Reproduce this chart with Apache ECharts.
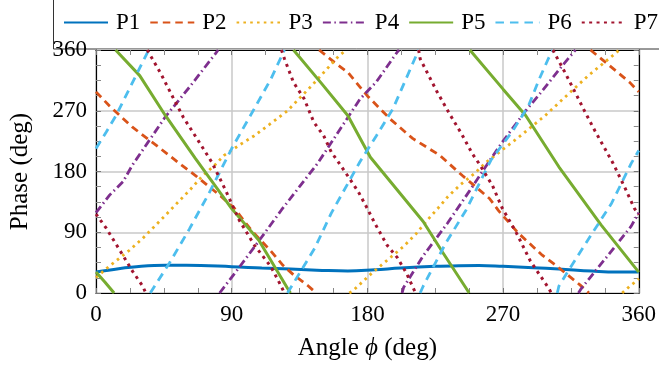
<!DOCTYPE html>
<html>
<head>
<meta charset="utf-8">
<script src="https://cdn.jsdelivr.net/npm/echarts@6/dist/echarts.min.js"></script>
<style>
  html, body { margin: 0; padding: 0; background: #fff; }
  #chart { width: 659px; height: 366px; }
</style>
</head>
<body>
<div id="chart"></div>
<script>
// Axis ticks (degrees) shared by both axes
const axisTicks = [0, 90, 180, 270, 360];

// Port phases versus steering angle; each series is a list of
// wrapped segments [angle, phase] (phase wraps at 0 / 360 deg).
const P1 = [[
  [0, 31], [15, 36], [30, 39.5], [46, 41], [60, 41], [90, 39], [110, 37],
  [129, 35.5], [150, 33.5], [167, 32.5], [185, 34.5], [202, 37], [225, 39.5],
  [241, 40.5], [254, 40.8], [270, 39.5], [290, 37.5], [307, 35.5], [329, 32.5],
  [345, 31], [360, 31]
]];

const P2 = [
  [[0, 298], [9, 277], [24, 246], [41, 217], [57, 189], [66, 174], [83, 143],
   [92, 125], [103, 93], [116, 62], [124, 41], [131, 27], [141, 10], [146, 0]],
  [[148, 360], [158, 342], [167, 327], [180, 292], [195, 258], [210, 229],
   [228, 204], [243, 174], [261, 140], [267, 122], [280, 89], [296, 56],
   [305, 41], [321, 12], [327, 0]],
  [[328, 360], [346, 327], [354, 312], [360, 298]]
];

const P3 = [
  [[0, 23], [9, 40], [22, 63], [31, 81], [46, 115], [55, 136], [62, 152],
   [70, 172], [79, 190], [85, 204], [95, 219], [105, 233], [114, 248],
   [123, 263], [127, 270], [143, 307], [161, 351], [166, 360]],
  [[168, 0], [170, 2.5], [183, 29.5], [195, 52], [204, 69], [212, 87],
   [219, 106], [227, 126], [233.5, 143], [242, 161], [251, 177], [259, 194],
   [280.5, 231], [298, 263], [311, 290], [326.5, 322], [344, 354], [347, 360]],
  [[349, 0], [354, 10], [358, 17], [360, 21]]
];

const P4 = [
  [[0, 119], [9, 145], [18, 165], [24, 189], [46, 261], [62, 305], [79, 354],
   [81, 360]],
  [[82, 0], [94, 35], [108, 77], [123, 123], [147, 192], [162, 243],
   [175, 287], [186, 313], [199.5, 356], [201, 360]],
  [[203, 0], [204, 8], [217, 55], [233, 103], [248, 152], [262, 199],
   [269, 222], [285, 270], [294, 294], [309, 336], [318, 360]],
  [[320, 0], [322, 7], [331, 32], [339.7, 56], [355, 99], [360, 119]]
];

const P5 = [
  [[0, 31], [6, 16], [12, 0]],
  [[13, 360], [29, 322], [46, 263], [66, 199], [90, 125],
   [108, 78], [127, 7], [129, 0]],
  [[131, 360], [149, 312], [167, 263], [182, 201], [217, 106], [230, 60],
   [245.5, 7], [247.5, 0]],
  [[248, 360], [270, 302], [285, 263], [307, 187], [335, 101], [360, 31]]
];

const P6 = [
  [[0, 214], [6.8, 238.5], [13.3, 263], [26.5, 322], [32, 347], [35, 360]],
  [[36, 0], [48.6, 44], [62, 95], [75, 148], [85, 192], [90, 214],
   [105, 273], [116, 317], [125, 360]],
  [[127, 0], [145, 66], [156, 118], [169, 170], [175, 194], [186, 233],
   [197, 273], [205, 314], [214, 360]],
  [[215, 0], [217, 10], [232, 74], [245.5, 123], [262, 197], [276, 239],
   [287, 278], [294, 317], [300, 347], [303, 360]],
  [[306, 0], [307, 10], [313, 32], [329, 88], [342, 133], [355, 192],
   [360, 211]]
];

const P7 = [
  [[0, 117], [6.8, 96], [15.6, 64], [24.3, 32], [31, 10], [33, 0]],
  [[34, 360], [43, 325], [51, 290], [58, 260], [68, 225], [77, 193],
   [86, 152], [95, 108], [105, 71], [116, 39], [121, 18], [125, 0]],
  [[123, 360], [125, 347], [131, 312], [138, 288], [144.5, 253], [151, 233],
   [156, 209], [162, 190], [174, 150], [180, 125], [185, 103], [193, 71],
   [200, 52], [206, 29], [210.5, 7], [212, 0]],
  [[214, 360], [215, 347], [226, 299], [234.6, 265], [242.4, 236],
   [249.7, 206], [254, 192], [263, 159], [269.6, 125], [278.4, 91],
   [288.2, 47], [300.3, 7], [302, 0]],
  [[303, 360], [311, 327], [319, 292], [324.4, 268], [331, 240],
   [337.5, 214], [343, 192], [350.6, 157], [357.2, 125], [360, 116]]
];

const seriesNames = ['P1', 'P2', 'P3', 'P4', 'P5', 'P6', 'P7'];
const seriesData = [P1, P2, P3, P4, P5, P6, P7];

// Join wrapped segments into one data list with gaps between them
function joinSegments(segs) {
  const out = [];
  segs.forEach((s, i) => {
    if (i) out.push(['-', '-']);
    s.forEach(p => out.push(p));
  });
  return out;
}

const FONT = '"Liberation Serif", "Times New Roman", serif';
const styles = [
  { color: '#0072BD', width: 3, type: 'solid', smooth: true },
  { color: '#D95319', width: 2.8, type: [7.5, 5] },
  { color: '#EDB120', width: 2.8, type: [2.6, 4.2] },
  { color: '#7E2F8E', width: 2.8, type: [8, 3.5, 1.5, 3.5] },
  { color: '#77AC30', width: 3, type: 'solid' },
  { color: '#4DBEEE', width: 2.8, type: [8.5, 6] },
  { color: '#A2142F', width: 3, type: [3, 4.4] }
];

const chart = echarts.init(document.getElementById('chart'), null, { renderer: 'canvas' });

const axMin = axisTicks[0];
const axMax = axisTicks[axisTicks.length - 1];
const axStep = axisTicks[1] - axisTicks[0];

function baseAxis(extra) {
  return Object.assign({
    type: 'value',
    min: axMin,
    max: axMax,
    interval: axStep,
    axisLine: { show: true, onZero: false, lineStyle: { color: '#000', width: 1.2 } },
    axisTick: { show: true, inside: true, length: 5, lineStyle: { color: '#777', width: 1 } },
    minorTick: { show: true, splitNumber: 4, length: 5, lineStyle: { color: '#888', width: 1 } },
    axisLabel: { show: false },
    splitLine: { show: false }
  }, extra);
}

const option = {
  animation: false,
  backgroundColor: '#fff',
  textStyle: { fontFamily: FONT },
  grid: { left: 93.5, right: 17.5, top: 50, bottom: 72, containLabel: false },
  legend: {
    data: seriesNames,
    left: 63,
    top: 11,
    padding: 0,
    itemWidth: 44,
    itemHeight: 14,
    itemGap: 9,
    itemStyle: { opacity: 0 },
    textStyle: { fontFamily: FONT, fontSize: 23, color: '#000', padding: [0, 0, 0, 3] }
  },
  graphic: [{
    type: 'rect',
    silent: true,
    shape: { x: 53.5, y: -5, width: 700, height: 54 },
    style: { fill: 'none', stroke: '#333', lineWidth: 1 }
  }],
  xAxis: [
    baseAxis({
      position: 'bottom',
      name: 'Angle {i|ϕ} (deg)',
      nameLocation: 'middle',
      nameGap: 43,
      nameTextStyle: {
        fontFamily: FONT, fontSize: 25, color: '#000',
        rich: { i: { fontFamily: FONT, fontStyle: 'italic', fontSize: 25, color: '#000' } }
      },
      axisLabel: { show: true, margin: 10, fontFamily: FONT, fontSize: 23, color: '#000' },
      splitLine: { show: true, lineStyle: { color: '#c8c8c8', width: 1.5 } }
    }),
    baseAxis({ position: 'top' })
  ],
  yAxis: [
    baseAxis({
      position: 'left',
      name: 'Phase (deg)',
      nameLocation: 'middle',
      nameGap: 63,
      nameTextStyle: { fontFamily: FONT, fontSize: 25, color: '#000' },
      axisLabel: { show: true, margin: 9, fontFamily: FONT, fontSize: 23, color: '#000' },
      splitLine: { show: true, lineStyle: { color: '#c8c8c8', width: 1.5 } }
    }),
    baseAxis({ position: 'right' })
  ],
  series: seriesNames.map((name, i) => ({
    name: name,
    type: 'line',
    xAxisIndex: 0,
    yAxisIndex: 0,
    data: joinSegments(seriesData[i]),
    showSymbol: false,
    symbol: 'none',
    connectNulls: false,
    smooth: styles[i].smooth ? 0.4 : false,
    color: styles[i].color,
    lineStyle: { color: styles[i].color, width: styles[i].width, type: styles[i].type, cap: 'butt' },
    z: 3 + i
  }))
};

chart.setOption(option);
</script>
</body>
</html>
